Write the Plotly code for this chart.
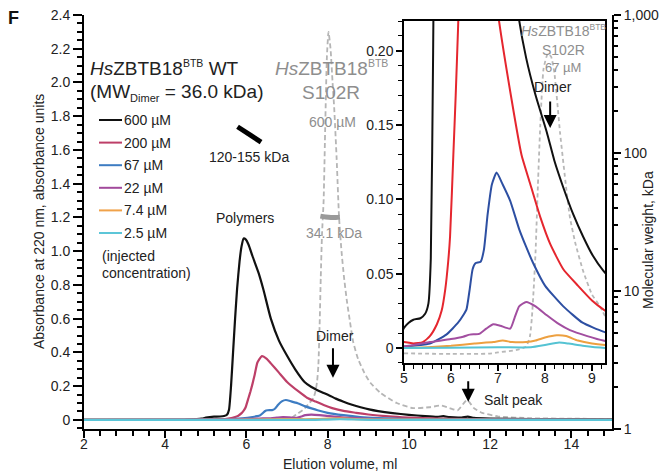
import plotly.graph_objects as go

# ---------------- data ----------------
# HsZBTB18-BTB WT, injected concentrations
legend_labels = ["600 µM", "200 µM", "67 µM", "22 µM", "7.4 µM", "2.5 µM"]

wt600_vol = [2.0, 4.0, 4.6, 4.9, 5.0, 5.1, 5.2, 5.35, 5.45, 5.52, 5.57, 5.62, 5.67, 5.72, 5.77, 5.83, 5.88,
             5.93, 5.98, 6.05, 6.15, 6.3, 6.42, 6.6, 6.8, 7.0, 7.2, 7.43, 7.6, 7.8, 8.04, 8.2, 8.39, 8.6,
             8.81, 9.02, 9.24, 9.6, 10.0, 10.4, 10.7, 10.85, 11.0, 11.3, 11.45, 11.6, 12.0, 13.0, 14.0, 15.0]
wt600_abs = [0.0, 0.0, 0.002, 0.008, 0.0135, 0.017, 0.019, 0.02, 0.023, 0.03, 0.06, 0.2, 0.4, 0.6, 0.78, 0.94,
             1.03, 1.075, 1.07, 1.04, 0.97, 0.87, 0.77, 0.6, 0.47, 0.38, 0.3, 0.225, 0.195, 0.17, 0.145, 0.126,
             0.108, 0.09, 0.075, 0.062, 0.052, 0.04, 0.03, 0.022, 0.018, 0.022, 0.016, 0.014, 0.019, 0.012,
             0.008, 0.005, 0.004, 0.003]

wt200_vol = [2.0, 4.5, 5.0, 5.2, 5.4, 5.55, 5.7, 5.8, 5.88, 5.94, 5.98, 6.05, 6.1, 6.15, 6.2, 6.27, 6.38,
             6.5, 6.6, 6.8, 7.0, 7.29, 7.5, 7.68, 7.9, 8.11, 8.39, 8.7, 9.0, 9.24, 9.6, 10.0, 11.0, 12.0, 15.0]
wt200_abs = [0.0, 0.001, 0.004, 0.003, 0.004, 0.008, 0.016, 0.025, 0.04, 0.058, 0.075, 0.13, 0.17, 0.215,
             0.265, 0.34, 0.378, 0.362, 0.335, 0.28, 0.225, 0.167, 0.13, 0.111, 0.088, 0.07, 0.053, 0.042,
             0.032, 0.026, 0.019, 0.013, 0.006, 0.003, 0.0]

wt67_vol = [2.0, 5.0, 5.55, 5.9, 6.15, 6.26, 6.33, 6.4, 6.46, 6.52, 6.63, 6.7, 6.78, 6.87, 6.97, 7.1, 7.26,
            7.45, 7.6, 7.75, 8.0, 8.39, 8.8, 9.24, 10.0, 11.0, 15.0]
wt67_abs = [0.0, 0.001, 0.003, 0.009, 0.017, 0.022, 0.026, 0.04, 0.053, 0.057, 0.058, 0.066, 0.09, 0.11,
            0.118, 0.11, 0.099, 0.08, 0.068, 0.057, 0.042, 0.028, 0.017, 0.011, 0.005, 0.002, 0.0]

wt22_vol = [2.0, 5.0, 5.55, 6.0, 6.26, 6.4, 6.6, 6.75, 6.9, 7.05, 7.26, 7.35, 7.45, 7.6, 7.8, 8.04, 8.3,
            8.53, 8.9, 9.24, 10.0, 11.0, 15.0]
wt22_abs = [0.0, 0.001, 0.004, 0.006, 0.0076, 0.009, 0.0095, 0.013, 0.016, 0.015, 0.013, 0.02, 0.028,
            0.031, 0.028, 0.022, 0.016, 0.012, 0.008, 0.005, 0.002, 0.001, 0.0]

wt7_vol = [2.0, 5.0, 5.5, 6.0, 6.5, 6.9, 7.1, 7.3, 7.6, 7.8, 8.0, 8.25, 8.45, 8.7, 9.0, 9.3, 10.0, 15.0]
wt7_abs = [0.0, 0.0, 0.0005, 0.0015, 0.003, 0.004, 0.005, 0.004, 0.004, 0.005, 0.007, 0.0085, 0.008,
           0.005, 0.003, 0.002, 0.001, 0.0]

wt2_vol = [2.0, 5.0, 7.0, 7.7, 8.0, 8.3, 8.5, 8.8, 9.3, 15.0]
wt2_abs = [0.0, 0.0, 0.0005, 0.0005, 0.002, 0.0037, 0.003, 0.0015, 0.0, 0.0]

# HsZBTB18-BTB S102R, 600 µM (main panel, dashed)
s600_vol = [2.0, 6.5, 6.9, 7.1, 7.24, 7.4, 7.55, 7.65, 7.7, 7.74, 7.77, 7.8, 7.83, 7.86, 7.9, 7.94, 7.98,
            8.02, 8.07, 8.12, 8.16, 8.22, 8.28, 8.34, 8.4, 8.47, 8.55, 8.63, 8.75, 8.9, 9.05, 9.3, 9.7,
            10.1, 10.5, 10.8, 11.0, 11.2, 11.43, 11.6, 11.8, 12.2, 13.0, 14.0, 15.0]
s600_abs = [0.0, 0.0, 0.003, 0.01, 0.035, 0.06, 0.1, 0.13, 0.17, 0.23, 0.32, 0.55, 0.85, 1.1, 1.3, 1.75,
            2.15, 2.3, 2.2, 2.0, 1.85, 1.55, 1.2, 1.0, 0.85, 0.71, 0.58, 0.46, 0.36, 0.28, 0.22, 0.16, 0.1,
            0.07, 0.075, 0.085, 0.07, 0.057, 0.118, 0.07, 0.042, 0.02, 0.01, 0.007, 0.006]

# HsZBTB18-BTB S102R, 67 µM (inset, dashed)
s67_vol = [5.0, 6.0, 6.8, 7.0, 7.4, 7.6, 7.68, 7.72, 7.76, 7.8, 7.85, 7.9, 7.97, 8.06, 8.13, 8.2, 8.32,
           8.45, 8.53, 8.65, 8.81, 9.0, 9.17, 9.3]
s67_abs = [-0.0036, -0.004, -0.0038, -0.003, -0.0013, 0.001, 0.008, 0.02, 0.04, 0.065, 0.11, 0.15, 0.188,
           0.198, 0.196, 0.185, 0.145, 0.108, 0.088, 0.07, 0.052, 0.036, 0.028, 0.02]

# molecular weight readouts (right axis, kDa)
mw_poly_vol = [5.78, 5.92, 6.06, 6.2, 6.36]
mw_poly_kda = [155, 146, 137, 128, 120]
mw_s102r_vol = [7.82, 7.95, 8.08, 8.2, 8.3]
mw_s102r_kda = [34.9, 34.4, 34.1, 34.1, 34.3]

# tick labels
x_ticks = [2, 4, 6, 8, 10, 12, 14]
y_ticks = [0, 0.2, 0.4, 0.6, 0.8, 1.0, 1.2, 1.4, 1.6, 1.8, 2.0, 2.2, 2.4]
y_ticktext = ["0", "0.2", "0.4", "0.6", "0.8", "1.0", "1.2", "1.4", "1.6", "1.8", "2.0", "2.2", "2.4"]
mw_ticks = [1, 10, 100, 1000]
mw_ticktext = ["1", "10", "100", "1,000"]
mw_minor = [m * d for d in (1, 10, 100) for m in range(2, 10)]
ix_ticks = [5, 6, 7, 8, 9]
iy_ticks = [0, 0.05, 0.10, 0.15, 0.20]
iy_ticktext = ["0", "0.05", "0.10", "0.15", "0.20"]

# ---------------- styling ----------------
# the page body adds an 8 px margin, so the figure is 8 px smaller and all
# reference pixel positions are shifted by that offset
OFF = 8
W, H = 668 - OFF, 475 - OFF
L, R, T, B = 84, 612, 15, 429      # plot area in reference pixels


def fx(px):
    return (px - L) / (R - L)


def fy(py):
    return (B - py) / (B - T)


FONT = "Liberation Sans, Arial, sans-serif"
TXT = "#222222"
GTXT = "#8e8e8e"

main_colors = ["#111111", "#bd3f68", "#3d7cc2", "#a24a9c", "#f0a24a", "#5cc6d8"]
inset_colors = ["#111111", "#e5262e", "#2d4fa2", "#a24ea0", "#eda040", "#55c3d3"]
series = [(wt600_vol, wt600_abs), (wt200_vol, wt200_abs), (wt67_vol, wt67_abs),
          (wt22_vol, wt22_abs), (wt7_vol, wt7_abs), (wt2_vol, wt2_abs)]

fig = go.Figure()

# main panel
fig.add_trace(go.Scatter(x=s600_vol, y=s600_abs, mode="lines", xaxis="x", yaxis="y",
                         line=dict(color="#b5b5b5", width=1.8, dash="5px,3px", shape="spline", smoothing=0.5)))
for (v, a), c in zip(series, main_colors):
    fig.add_trace(go.Scatter(x=v, y=a, mode="lines", xaxis="x", yaxis="y",
                             line=dict(color=c, width=2.2, shape="spline", smoothing=0.5)))
fig.add_trace(go.Scatter(x=mw_poly_vol, y=mw_poly_kda, mode="lines", xaxis="x", yaxis="y2",
                         line=dict(color="#000000", width=5)))
fig.add_trace(go.Scatter(x=mw_s102r_vol, y=mw_s102r_kda, mode="lines", xaxis="x", yaxis="y2",
                         line=dict(color="#9a9a9a", width=5, shape="spline")))

# inset panel
fig.add_trace(go.Scatter(x=s67_vol, y=s67_abs, mode="lines", xaxis="x2", yaxis="y3",
                         line=dict(color="#b8b8b8", width=1.8, dash="4px,3px", shape="spline", smoothing=0.5)))
for (v, a), c in zip(series, inset_colors):
    fig.add_trace(go.Scatter(x=v, y=a, mode="lines", xaxis="x2", yaxis="y3",
                             line=dict(color=c, width=2, shape="spline", smoothing=0.5)))

tickfont = dict(family=FONT, size=14, color=TXT)
axis_common = dict(showline=True, linecolor="black", showgrid=False, zeroline=False, tickcolor="black",
                   tickfont=tickfont, ticks="outside", automargin=False, ticklabeloverflow="allow")

annotations = []


def text(px, py, s, size=14, color=TXT, xanchor="center", yanchor="middle", angle=0):
    annotations.append(dict(x=fx(px), y=fy(py), xref="paper", yref="paper", text=s, showarrow=False,
                            xanchor=xanchor, yanchor=yanchor, textangle=angle,
                            font=dict(family=FONT, size=size, color=color)))


SUP = '<sup><span style="font-size:10.5px">BTB</span></sup>'
SUP_S = '<sup><span style="font-size:8.5px">BTB</span></sup>'
text(13, 18, "<b>F</b>", size=18, color="#111111")
text(88, 68, "<i>Hs</i>ZBTB18" + SUP + " WT", size=19, xanchor="left")
text(88, 92, '(MW<sub><span style="font-size:11px">Dimer</span></sub> = 36.0 kDa)', size=19, xanchor="left")
text(331, 68, "<i>Hs</i>ZBTB18" + SUP, size=19, color=GTXT)
text(331, 92, "S102R", size=19, color=GTXT)
text(332, 122, "600 µM", size=14, color=GTXT)
text(249, 157, "120-155 kDa", size=14)
text(245, 218, "Polymers", size=14)
text(334, 233, "34.1 kDa", size=14, color=GTXT)
text(335, 336, "Dimer", size=14)
text(482, 400, "Salt peak", size=14, xanchor="left")
text(100, 256, "(injected", size=14, xanchor="left")
text(100, 273, "concentration)", size=14, xanchor="left")
# inset labels
text(563, 31, "<i>Hs</i>ZBTB18" + SUP_S, size=14, color=GTXT)
text(563, 50, "S102R", size=14, color=GTXT)
text(563, 67, "67 µM", size=13, color=GTXT)
text(553, 87, "Dimer", size=14)
# axis titles
text(39, 222, "Absorbance at 220 nm, absorbance units", size=14, angle=-90)
text(340, 464, "Elution volume, ml", size=14)
text(648, 240, "Molecular weight, kDa", size=14, angle=-90)

# legend (manual)
shapes = []
for i, (lab, c) in enumerate(zip(legend_labels, main_colors)):
    yy = 120 + i * 22.6
    shapes.append(dict(type="line", xref="paper", yref="paper", x0=fx(99), x1=fx(122), y0=fy(yy), y1=fy(yy),
                       line=dict(color=c, width=2)))
    text(122, yy, lab, size=14, xanchor="left")

# arrows
arrow = dict(showarrow=True, text="", arrowhead=2, arrowsize=1.3, arrowwidth=2, arrowcolor="black", ax=0)
annotations.append(dict(arrow, x=8.13, y=0.25, xref="x", yref="y", ay=-31))
annotations.append(dict(arrow, x=11.46, y=0.107, xref="x", yref="y", ay=-22))
annotations.append(dict(arrow, x=8.11, y=0.148, xref="x2", yref="y3", ay=-28))

fig.update_layout(
    width=W, height=H,
    margin=dict(l=L - OFF, r=668 - R, t=T - OFF, b=475 - B, pad=0, autoexpand=False),
    paper_bgcolor="white", plot_bgcolor="white",
    showlegend=False,
    font=dict(family=FONT, color=TXT),
    xaxis=dict(axis_common, domain=[0, 1], anchor="y", range=[2, 15], linewidth=2, ticklen=7, tickwidth=2,
               tickvals=x_ticks, ticktext=[str(v) for v in x_ticks], ticklabelstandoff=-6,
               minor=dict(ticks="outside", dtick=0.4, tick0=2, ticklen=5, tickwidth=1.5, tickcolor="black")),
    yaxis=dict(axis_common, domain=[0, 1], anchor="x", range=[-0.054, 2.4], linewidth=2, ticklen=9,
               tickwidth=2, tickvals=y_ticks, ticktext=y_ticktext,
               minor=dict(ticks="outside", dtick=0.05, tick0=0, ticklen=5, tickwidth=1.5, tickcolor="black")),
    yaxis2=dict(axis_common, overlaying="y", side="right", anchor="x", type="log", range=[-0.0005, 3.0005],
                linewidth=2, ticklen=7, tickwidth=2, tickvals=mw_ticks, ticktext=mw_ticktext,
                minor=dict(ticks="outside", tickvals=mw_minor, ticklen=4, tickwidth=1.5, tickcolor="black")),
    xaxis2=dict(axis_common, domain=[fx(404), fx(605)], anchor="y3", range=[5, 9.277], mirror=True,
                linewidth=1.5, ticklen=6, tickwidth=1.5, tickvals=ix_ticks, ticktext=[str(v) for v in ix_ticks],
                ticklabelstandoff=-5,
                minor=dict(ticks="outside", dtick=0.2, tick0=5, ticklen=4, tickwidth=1.2, tickcolor="black")),
    yaxis3=dict(axis_common, domain=[fy(363), fy(21)], anchor="x2", range=[-0.0101, 0.22], mirror=True,
                linewidth=1.5, ticklen=6, tickwidth=1.5, tickvals=iy_ticks, ticktext=iy_ticktext,
                minor=dict(ticks="outside", dtick=0.01, tick0=0, ticklen=4, tickwidth=1.2, tickcolor="black")),
    annotations=annotations,
    shapes=shapes,
)

fig.write_html("out.html")
